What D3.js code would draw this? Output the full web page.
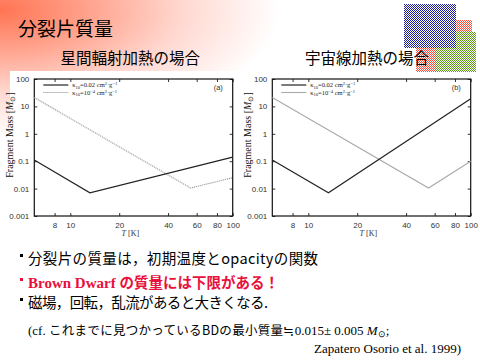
<!DOCTYPE html>
<html><head><meta charset="utf-8">
<script src="https://cdn.jsdelivr.net/npm/d3@7"></script>
<style>body{margin:0;background:#fff}svg{display:block}</style>
</head><body>
<svg id="c" width="480" height="360"></svg>
<script>
// data
const xTicks = [8, 10, 20, 40, 60, 80, 100];
const yTicks = [0.001, 0.01, 0.1, 1, 10, 100];
const yTickLabels = ["0.001", "0.01", "0.1", "1", "10", "100"];
const tempA_solid = [6, 13.2, 100];
const massA_solid = [0.11, 0.007, 0.14];
const tempA_gray = [6, 55, 100];
const massA_gray = [21, 0.0105, 0.025];
const tempB_solid = [6, 13.3, 100];
const massB_solid = [0.11, 0.007, 19];
const tempB_gray = [6, 55, 100];
const massB_gray = [21, 0.0105, 0.1];
const panelTitles = ["星間輻射加熱の場合", "宇宙線加熱の場合"];
const panelTags = ["(a)", "(b)"];

const svg = d3.select("#c");
const defs = svg.append("defs");
const rg = defs.append("radialGradient").attr("id","bg").attr("gradientUnits","userSpaceOnUse")
  .attr("cx",0).attr("cy",10).attr("r",280).attr("gradientTransform","translate(0,10) scale(1,0.45) translate(0,-10)");
[[0,"#ff7452"],[0.3,"#ffa08a"],[0.65,"#ffd8d0"],[1,"#ffffff"]].forEach(s=>rg.append("stop").attr("offset",s[0]).attr("stop-color",s[1]));
function checker(id, col){
  const p = defs.append("pattern").attr("id",id).attr("width",2).attr("height",2).attr("patternUnits","userSpaceOnUse");
  p.append("rect").attr("width",2).attr("height",2).attr("fill","#fff");
  p.append("rect").attr("width",1).attr("height",1).attr("fill",col);
  p.append("rect").attr("x",1).attr("y",1).attr("width",1).attr("height",1).attr("fill",col);
}
checker("pb","#1c1c9c"); checker("pr","#ff4a3a"); checker("pg","#5a9a10");

svg.append("rect").attr("width",480).attr("height",360).attr("fill","url(#bg)");
svg.append("rect").attr("x",10).attr("y",71).attr("width",470).attr("height",170).attr("fill","#fff");

// decorations
svg.append("rect").attr("x",436).attr("y",32).attr("width",40).attr("height",40).attr("fill","url(#pg)");
svg.append("rect").attr("x",416).attr("y",48).attr("width",20).attr("height",24).attr("fill","url(#pr)");
svg.append("rect").attr("x",456).attr("y",20).attr("width",16).attr("height",12).attr("fill","url(#pr)");
svg.append("rect").attr("x",404).attr("y",4).attr("width",52).attr("height",44).attr("fill","url(#pb)");

const jp = "'Noto Sans CJK JP', sans-serif";
svg.append("text").attr("x",18).attr("y",36).attr("font-family",jp).attr("font-size",19).attr("fill","#000").text("分裂片質量");

const panels = [
  {x0:34.3, title:panelTitles[0], tx:60.5, tag:panelTags[0], s:[tempA_solid,massA_solid], g:[tempA_gray,massA_gray], dash:"1.2,0.8", gcol:"#9a9a9a"},
  {x0:272.3, title:panelTitles[1], tx:305, tag:panelTags[1], s:[tempB_solid,massB_solid], g:[tempB_gray,massB_gray], dash:null, gcol:"#aaa"}
];
panels.forEach(p=>{
  svg.append("text").attr("x",p.tx).attr("y",64).attr("font-family",jp).attr("font-size",15.5).text(p.title);
  const x = d3.scaleLog().domain([6,100]).range([p.x0, p.x0+198.4]);
  const y = d3.scaleLog().domain([0.001,100]).range([216,79]);
  const g = svg.append("g");
  const ax = g.append("g").attr("transform","translate(0,216)")
    .call(d3.axisBottom(x).tickValues(xTicks).tickFormat(d3.format("d")).tickSize(-3).tickPadding(6));
  const axt = g.append("g").attr("transform","translate(0,79)")
    .call(d3.axisTop(x).tickValues(xTicks).tickFormat("").tickSize(-3));
  const ay = g.append("g").attr("transform",`translate(${p.x0},0)`)
    .call(d3.axisLeft(y).tickValues(yTicks).tickFormat((d,i)=>yTickLabels[i]).tickSize(-3).tickPadding(5));
  const ayr = g.append("g").attr("transform",`translate(${p.x0+198.4},0)`)
    .call(d3.axisRight(y).tickValues(yTicks).tickFormat("").tickSize(-3));
  [ax,axt,ay,ayr].forEach(a=>{a.select(".domain").remove(); a.selectAll("line").attr("stroke","#333");
    a.selectAll("text").attr("font-family","'Liberation Sans', Arial, sans-serif").attr("font-size",8).attr("fill","#333");});
  g.append("rect").attr("x",p.x0).attr("y",79).attr("width",198.4).attr("height",137).attr("fill","none").attr("stroke","#111").attr("stroke-width",1.2);
  const line = d3.line().x(d=>x(d[0])).y(d=>y(d[1]));
  const gpts = p.g[0].map((t,i)=>[t,p.g[1][i]]);
  const spts = p.s[0].map((t,i)=>[t,p.s[1][i]]);
  const gl = g.append("path").attr("d",line(gpts)).attr("fill","none").attr("stroke",p.gcol).attr("stroke-width",1.1);
  if(p.dash) gl.attr("stroke-dasharray",p.dash);
  g.append("path").attr("d",line(spts)).attr("fill","none").attr("stroke","#222").attr("stroke-width",1.2);
  // legend
  const lx = p.x0+9;
  g.append("line").attr("x1",lx).attr("x2",lx+25).attr("y1",85).attr("y2",85).attr("stroke","#222").attr("stroke-width",1.2);
  const l2 = g.append("line").attr("x1",lx).attr("x2",lx+25).attr("y1",92.5).attr("y2",92.5).attr("stroke",p.gcol).attr("stroke-width",1.1);
  if(p.dash) l2.attr("stroke-dasharray",p.dash);
  const sf = "'Liberation Serif', 'Times New Roman', serif";
  [["0.02",null],["10","−4"]].forEach((v,i)=>{
    const t = g.append("text").attr("x",lx+29).attr("y",87.3+i*7.5).attr("font-family",sf).attr("font-size",6.5).attr("fill","#222");
    t.append("tspan").text("κ");
    t.append("tspan").attr("font-size",4.5).attr("dy",1.2).text("10");
    t.append("tspan").attr("dy",-1.2).text("="+v[0]);
    if(v[1]) t.append("tspan").attr("font-size",4.5).attr("dy",-2.3).text(v[1]);
    t.append("tspan").attr("dy",v[1]?2.3:0).text(" cm");
    t.append("tspan").attr("font-size",4.5).attr("dy",-2.3).text("2");
    t.append("tspan").attr("dy",2.3).text("·g");
    t.append("tspan").attr("font-size",4.5).attr("dy",-2.3).text("−1");
  });
  g.append("text").attr("x",p.x0+184).attr("y",90).attr("text-anchor","middle").attr("font-family","'Liberation Sans', sans-serif").attr("font-size",7.5).attr("fill","#333").text(p.tag);
  // axis labels
  const xl = g.append("text").attr("x",p.x0+96).attr("y",236).attr("text-anchor","middle").attr("font-family",sf).attr("font-size",8).attr("fill","#333");
  xl.append("tspan").attr("font-style","italic").text("T");
  xl.append("tspan").text(" [K]");
  const yl = g.append("text").attr("transform",`translate(${p.x0-21},135) rotate(-90)`).attr("text-anchor","middle").attr("font-family",sf).attr("font-size",10).attr("fill","#111");
  yl.append("tspan").text("Fragment Mass [");
  yl.append("tspan").attr("font-style","italic").text("M");
  yl.append("tspan").attr("font-size",7).attr("dy",2).text("⊙");
  yl.append("tspan").attr("dy",-2).text("]");
});

// bullets
const bulletY = [258, 282, 302];
const bulletCol = ["#000", "#e8103c", "#000"];
bulletY.forEach((by,i)=>svg.append("rect").attr("x",20).attr("y",by-4).attr("width",3).attr("height",3).attr("fill",bulletCol[i]));
const bl = svg.append("g").attr("font-family",jp).attr("font-size",14.5);
bl.append("text").attr("x",28).attr("y",264).attr("textLength",290).attr("lengthAdjust","spacing").text("分裂片の質量は，初期温度とopacityの関数");
const r = bl.append("text").attr("x",28).attr("y",288).attr("fill","#e8103c").attr("font-weight","bold");
r.append("tspan").attr("font-family","'Liberation Serif', serif").attr("font-size",15).text("Brown Dwarf ");
r.append("tspan").text("の質量には下限がある！");
bl.append("text").attr("x",28).attr("y",308).attr("textLength",240).attr("lengthAdjust","spacing").text("磁場，回転，乱流があると大きくなる.");
const cf = svg.append("text").attr("x",28).attr("y",335).attr("font-family","'Liberation Serif', serif").attr("font-size",13);
cf.append("tspan").text("(cf. ");
cf.append("tspan").attr("font-family",jp).attr("font-size",12.5).attr("letter-spacing",0.3).text("これまでに見つかっているBDの最小質量≒");
cf.append("tspan").text("0.015± 0.005 ");
cf.append("tspan").attr("font-style","italic").text("M");
cf.append("tspan").attr("font-size",9).attr("dy",2).text("⊙");
cf.append("tspan").attr("dy",-2).text(";");
svg.append("text").attr("x",461).attr("y",353).attr("text-anchor","end").attr("font-family","'Liberation Serif', serif").attr("font-size",13).text("Zapatero Osorio et al. 1999)");
</script>
</body></html>
